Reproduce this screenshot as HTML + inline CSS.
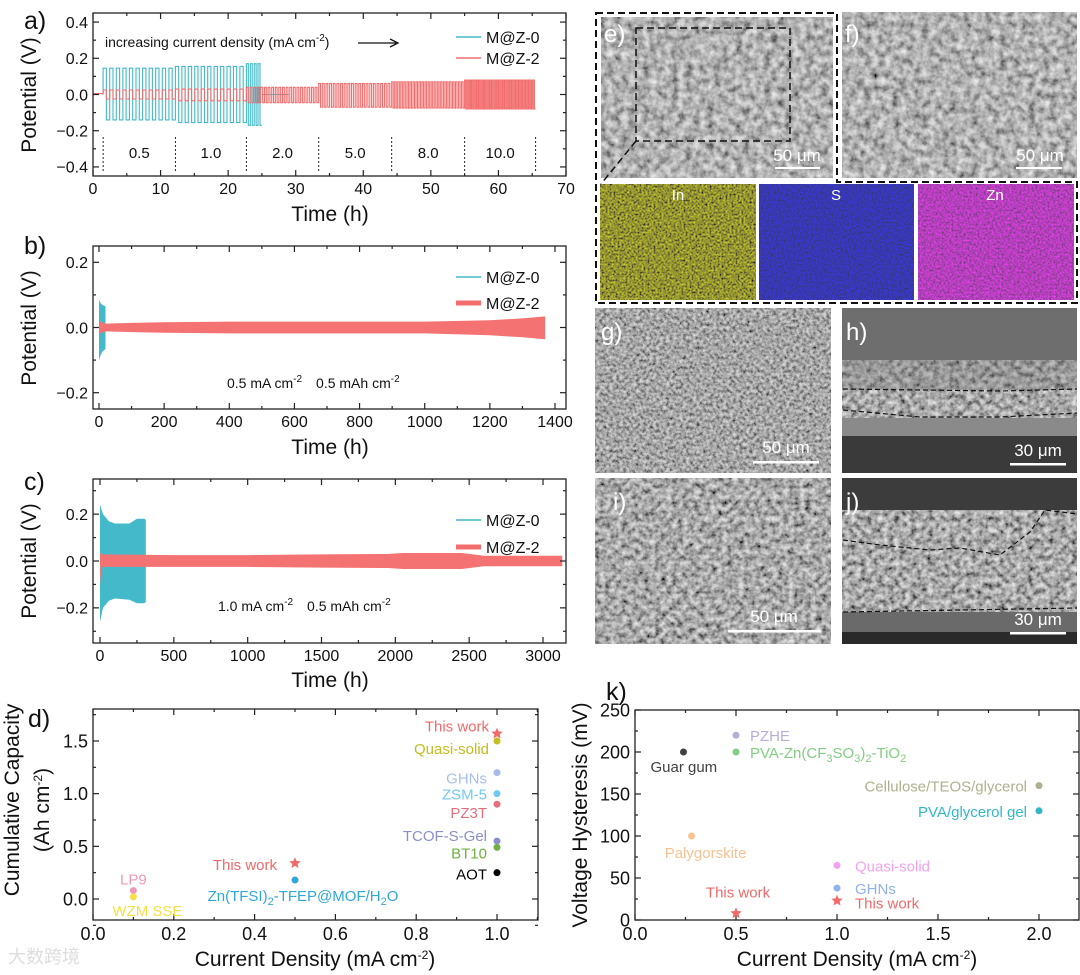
<!DOCTYPE html>
<html><head><meta charset="utf-8">
<style>
html,body{margin:0;padding:0;background:#fff;}
svg{display:block;font-family:"Liberation Sans",Arial,sans-serif;}
</style></head>
<body>
<svg id="fig" width="1080" height="975" viewBox="0 0 1080 975" xmlns="http://www.w3.org/2000/svg">
<defs>
<filter id="semGray" x="0" y="0" width="100%" height="100%"><feTurbulence type="fractalNoise" baseFrequency="0.14" numOctaves="4" seed="3"/><feColorMatrix type="matrix" values="1.0 0 0 0 -0.06  1.0 0 0 0 -0.06  1.0 0 0 0 -0.06  0 0 0 0 1"/></filter>
<filter id="semDark" x="0" y="0" width="100%" height="100%"><feTurbulence type="fractalNoise" baseFrequency="0.3" numOctaves="3" seed="7"/><feColorMatrix type="matrix" values="1.0 0 0 0 -0.12  1.0 0 0 0 -0.12  1.0 0 0 0 -0.12  0 0 0 0 1"/></filter>
<filter id="semCoarse" x="0" y="0" width="100%" height="100%"><feTurbulence type="fractalNoise" baseFrequency="0.18" numOctaves="3" seed="11"/><feColorMatrix type="matrix" values="1.1 0 0 0 -0.15  1.1 0 0 0 -0.15  1.1 0 0 0 -0.15  0 0 0 0 1"/></filter>
<filter id="edsY" x="0" y="0" width="100%" height="100%"><feTurbulence type="fractalNoise" baseFrequency="0.5" numOctaves="2" seed="4"/><feColorMatrix type="matrix" values="1.0 0 0 0 -0.2  1.0 0 0 0 -0.2  0 0 0 0 0.03  0 0 0 0 1"/></filter>
<filter id="edsB" x="0" y="0" width="100%" height="100%"><feTurbulence type="fractalNoise" baseFrequency="0.5" numOctaves="2" seed="5"/><feColorMatrix type="matrix" values="0 0 0 0 0.04  0 0 0 0 0.04  1.1 0 0 0 -0.1  0 0 0 0 1"/></filter>
<filter id="edsM" x="0" y="0" width="100%" height="100%"><feTurbulence type="fractalNoise" baseFrequency="0.5" numOctaves="2" seed="6"/><feColorMatrix type="matrix" values="1.1 0 0 0 -0.08  0 0 0 0 0.05  1.15 0 0 0 -0.06  0 0 0 0 1"/></filter>
</defs>

<g>
<rect x="601" y="17" width="232" height="161" fill="#888" filter="url(#semGray)"/>
<rect x="842" y="12" width="235" height="166" fill="#888" filter="url(#semGray)"/>
<rect x="600" y="184" width="156" height="116" filter="url(#edsY)"/>
<rect x="759" y="184" width="155" height="116" filter="url(#edsB)"/>
<rect x="918" y="184" width="156" height="116" filter="url(#edsM)"/>
<rect x="595" y="308" width="236" height="165" filter="url(#semDark)"/>
<g>
<rect x="842" y="308" width="235" height="165" fill="#6e6e6e"/>
<rect x="842" y="360" width="235" height="30" filter="url(#semCoarse)" opacity="0.7"/>
<rect x="842" y="390" width="235" height="28" filter="url(#semCoarse)"/>
<rect x="842" y="418" width="235" height="18" fill="#8a8a8a"/>
<rect x="842" y="436" width="235" height="37" fill="#3a3a3a"/>
<path d="M843 389 L1000 391 L1077 389 M843 410 L920 417 L1000 417 L1077 413" stroke="#111" stroke-width="1.2" stroke-dasharray="5,3" fill="none"/>
</g>
<rect x="595" y="478" width="236" height="166" filter="url(#semCoarse)"/>
<g>
<rect x="842" y="478" width="235" height="166" fill="#3c3c3c"/>
<path d="M842 520 L900 525 L945 540 L980 540 L1010 530 L1030 510 L1077 510 L1077 612 L842 612 Z" fill="#777" filter="url(#semCoarse)"/>
<rect x="842" y="612" width="235" height="20" fill="#6a6a6a"/>
<rect x="842" y="632" width="235" height="12" fill="#2a2a2a"/>
<path d="M843 540 L880 545 L930 550 L960 548 L1000 555 L1030 532 L1045 510 L1077 514 M843 612 L960 610 L1077 608" stroke="#111" stroke-width="1.2" stroke-dasharray="5,3" fill="none"/>
</g>
<g fill="none" stroke="#111" stroke-width="2" stroke-dasharray="7,4">
<path d="M596 13 L837 13 L837 182 L1077 182 L1077 303 L596 303 Z"/>
<path d="M636 28 L790 28 L790 141 L636 141 Z" stroke-width="1.5"/>
<path d="M636 141 L601 184" stroke-width="1.5"/>
</g>
<g fill="#fff" font-size="24">
<text x="604" y="42">e)</text><text x="845" y="42">f)</text>
<text x="601" y="340">g)</text><text x="846" y="340">h)</text>
<text x="613" y="510">i)</text><text x="846" y="510">j)</text>
</g>
<g fill="#fff" font-size="15" text-anchor="middle">
<text x="678" y="200">In</text><text x="836" y="200">S</text><text x="995" y="200">Zn</text>
</g>
<g fill="#fff" font-size="17" text-anchor="middle">
<text x="797" y="161">50 μm</text><rect x="775" y="167" width="45" height="2"/>
<text x="1040" y="161">50 μm</text><rect x="1016" y="167" width="46" height="2"/>
<text x="786" y="453">50 μm</text><rect x="753" y="461" width="66" height="2.5"/>
<text x="1038" y="456">30 μm</text><rect x="1010" y="463" width="56" height="2.5"/>
<text x="774" y="622">50 μm</text><rect x="728" y="630" width="93" height="2.5"/>
<text x="1038" y="625">30 μm</text><rect x="1010" y="632" width="56" height="2.5"/>
</g>
</g>
<g id="charts"></g>
</svg>

<script>
// ---------- Panel a data ----------
const aStageStart = [1.5, 12.2, 22.7, 33.4, 44.2, 55.0];
const aStageEnd = [12.2, 22.7, 33.4, 44.2, 55.0, 65.5];
const aStageLabels = ["0.5", "1.0", "2.0", "5.0", "8.0", "10.0"];
const aRedCycles = [11, 11, 20, 20, 24, 30];
const aRedHi = [0.025, 0.03, 0.04, 0.06, 0.07, 0.08];
const aRedLo = [-0.025, -0.035, -0.045, -0.07, -0.075, -0.08];
const aCyanEnd = [12.2, 22.7, 25.0];
const aCyanCycles = [11, 11, 4];
const aCyanHi = [0.145, 0.155, 0.17];
const aCyanLo = [-0.14, -0.155, -0.17];
// ---------- Panel b data ----------
const bRedT = [0, 20, 100, 200, 400, 600, 800, 1000, 1200, 1300, 1370];
const bRedHi = [0.02, 0.012, 0.014, 0.016, 0.018, 0.018, 0.018, 0.018, 0.022, 0.028, 0.034];
const bRedLo = [-0.02, -0.012, -0.014, -0.016, -0.018, -0.018, -0.018, -0.018, -0.024, -0.03, -0.036];
const bCyanT = [0, 5, 10, 20];
const bCyanHi = [0.085, 0.075, 0.07, 0.065];
const bCyanLo = [-0.1, -0.085, -0.075, -0.065];
// ---------- Panel c data ----------
const cCyanT = [0, 20, 60, 100, 200, 250, 300, 310];
const cCyanHi = [0.24, 0.2, 0.17, 0.16, 0.16, 0.18, 0.18, 0.175];
const cCyanLo = [-0.26, -0.2, -0.17, -0.16, -0.165, -0.18, -0.18, -0.175];
const cRedT = [0, 10, 500, 1000, 1500, 1950, 2050, 2450, 2600, 3000, 3130];
const cRedHi = [0.035, 0.028, 0.025, 0.025, 0.028, 0.03, 0.034, 0.034, 0.022, 0.022, 0.022];
const cRedLo = [-0.1, -0.025, -0.025, -0.025, -0.028, -0.03, -0.034, -0.034, -0.022, -0.022, -0.022];
// ---------- Panel d data ----------
const dNames = ["This work", "Quasi-solid", "GHNs", "ZSM-5", "PZ3T", "TCOF-S-Gel", "BT10", "AOT", "This work", "Zn(TFSI)2-TFEP@MOF/H2O", "LP9", "WZM SSE"];
const dX = [1.0, 1.0, 1.0, 1.0, 1.0, 1.0, 1.0, 1.0, 0.5, 0.5, 0.1, 0.1];
const dY = [1.57, 1.5, 1.2, 1.0, 0.9, 0.55, 0.49, 0.25, 0.34, 0.18, 0.08, 0.02];
const dColors = ["#f06a6a", "#c4bd1c", "#a6bdec", "#6fc9f2", "#e2707e", "#8a8fcb", "#6fb043", "#000", "#f06a6a", "#2fa7d9", "#ec9ab9", "#f5e04a"];
// ---------- Panel k data ----------
const kNames = ["Guar gum", "PZHE", "PVA-Zn(CF3SO3)2-TiO2", "Cellulose/TEOS/glycerol", "PVA/glycerol gel", "Palygorskite", "Quasi-solid", "GHNs", "This work", "This work"];
const kX = [0.24, 0.5, 0.5, 2.0, 2.0, 0.28, 1.0, 1.0, 1.0, 0.5];
const kY = [200, 220, 200, 160, 130, 100, 65, 38, 23, 8];
const kColors = ["#404040", "#b9acd9", "#82cc84", "#b1b08e", "#30b8c8", "#f8c291", "#f2a2f0", "#92b2ea", "#f06a6a", "#f06a6a"];

const NS = "http://www.w3.org/2000/svg";
const root = document.getElementById("charts");
function mk(tag, attrs, parent) {
  const e = document.createElementNS(NS, tag);
  for (const k in attrs) e.setAttribute(k, attrs[k]);
  (parent || root).appendChild(e);
  return e;
}
function lin(d0, d1, r0, r1) { return v => r0 + (v - d0) * (r1 - r0) / (d1 - d0); }

function axes(g, box, xs, ys, xT, xMinor, yT, yMinor, xFmt, yFmt, fs) {
  const [L, T, R, B] = box;
  const frame = mk("rect", {x: L, y: T, width: R - L, height: B - T, fill: "none", stroke: "#222", "stroke-width": 1.3}, g);
  
  
  const tk = mk("g", {stroke: "#222", "stroke-width": 1.2}, g);
  
  
  xMinor.forEach(v => { const x = xs(v); mk("line", {x1: x, x2: x, y1: B, y2: B - 3}, tk); mk("line", {x1: x, x2: x, y1: T, y2: T + 3}, tk); });
  yMinor.forEach(v => { const y = ys(v); mk("line", {x1: L, x2: L + 3, y1: y, y2: y}, tk); mk("line", {x1: R, x2: R - 3, y1: y, y2: y}, tk); });
  xT.forEach(v => { const x = xs(v); mk("line", {x1: x, x2: x, y1: B, y2: B - 6}, tk); mk("line", {x1: x, x2: x, y1: T, y2: T + 6}, tk); });
  yT.forEach(v => { const y = ys(v); mk("line", {x1: L, x2: L + 6, y1: y, y2: y}, tk); mk("line", {x1: R, x2: R - 6, y1: y, y2: y}, tk); });
  const xl = mk("g", {"font-size": fs, "text-anchor": "middle", fill: "#111"}, g);
  
  
  xT.forEach(v => { const t = mk("text", {x: xs(v), y: B + fs + 2}, xl); t.textContent = xFmt(v); });
  const yl = mk("g", {"font-size": fs, "text-anchor": "end", fill: "#111"}, g);
  
  
  yT.forEach(v => { const t = mk("text", {x: L - 5, y: ys(v) + fs * 0.36}, yl); t.textContent = yFmt(v); });
}
function txt(g, x, y, s, attrs, name) {
  const t = mk("text", Object.assign({x: x, y: y}, attrs || {}), g);
  t.innerHTML = s;
  
  
  return t;
}
function fmt1(v) { return (v < 0 ? "\u2212" : "") + Math.abs(v).toFixed(1); }
function band(g, xs, ys, T, hi, lo, color, name) {
  let d = "";
  T.forEach((t, i) => d += (i ? "L" : "M") + xs(t).toFixed(1) + " " + ys(hi[i]).toFixed(1));
  for (let i = T.length - 1; i >= 0; i--) d += "L" + xs(T[i]).toFixed(1) + " " + ys(lo[i]).toFixed(1);
  const p = mk("path", {d: d + "Z", fill: color}, g);
  
  
}
function legend(g, x, y1, y2, w) {
  const items = [["M@Z-0", "#43b9c9", y1, 1.5], ["M@Z-2", "#f26d6d", y2, w]];
  items.forEach(it => {
    const lg = mk("g", {}, g);
    
    
    mk("line", {x1: x, x2: x + 25, y1: it[2], y2: it[2], stroke: it[1], "stroke-width": it[3]}, lg);
    const t = mk("text", {x: x + 30, y: it[2] + 6, "font-size": 16, fill: "#111"}, lg);
    t.textContent = it[0];
  });
}
function rng(a, b, s) { const r = []; for (let v = a; v <= b + 1e-9; v += s) r.push(+v.toFixed(6)); return r; }
const titleAttrs = {"font-size": 21, "text-anchor": "middle", fill: "#111"};

// ===== Panel a =====
(function () {
  const g = mk("g", {});
  
  
  const box = [93, 13, 566, 176];
  const xs = lin(0, 70, 93, 566), ys = lin(-0.45, 0.45, 176, 13);
  function wave(starts, ends, cyc, hi, lo, color, name) {
    let d = "";
    starts.forEach((s, i) => {
      const e = ends[i], per = (e - s) / cyc[i];
      for (let k = 0; k < cyc[i]; k++) {
        const t = s + k * per;
        d += (d ? "L" : "M") + xs(t).toFixed(1) + " " + ys(0).toFixed(1);
        d += "L" + xs(t).toFixed(1) + " " + ys(hi[i]).toFixed(1) + "L" + xs(t + per / 2).toFixed(1) + " " + ys(hi[i]).toFixed(1);
        d += "L" + xs(t + per / 2).toFixed(1) + " " + ys(lo[i]).toFixed(1) + "L" + xs(t + per).toFixed(1) + " " + ys(lo[i]).toFixed(1);
      }
    });
    const p = mk("path", {d: d, fill: "none", stroke: color, "stroke-width": 1.1}, g);
    
    
    return p;
  }
  const pre = mk("line", {x1: xs(0), x2: xs(aStageStart[0]), y1: ys(0.005), y2: ys(0.005), stroke: "#f26d6d", "stroke-width": 1.2}, g);
  
  
  wave(aStageStart.slice(0, 3), aCyanEnd, aCyanCycles, aCyanHi, aCyanLo, "#43b9c9", "series-mz0");
  const tail = mk("line", {x1: xs(aCyanEnd[2]), x2: xs(29), y1: ys(0), y2: ys(0), stroke: "#43b9c9", "stroke-width": 1.1}, g);
  
  
  wave(aStageStart, aStageEnd, aRedCycles, aRedHi, aRedLo, "#f26d6d", "series-mz2");
  aStageStart.concat([aStageEnd[aStageEnd.length - 1]]).forEach(t => {
    const l = mk("line", {x1: xs(t), x2: xs(t), y1: 137, y2: 172, stroke: "#222", "stroke-width": 1, "stroke-dasharray": "2,2"}, g);
    
    
  });
  aStageLabels.forEach((s, i) => txt(g, xs((aStageStart[i] + aStageEnd[i]) / 2), 158, s, {"font-size": 15, "text-anchor": "middle", fill: "#111"}, "stage-label"));
  axes(g, box, xs, ys, rng(0, 70, 10), rng(5, 65, 10), rng(-0.4, 0.4, 0.2), rng(-0.3, 0.3, 0.2), v => String(v), fmt1, 16);
  txt(g, 105, 47, 'increasing current density (mA cm<tspan dy="-6" font-size="10">-2</tspan><tspan dy="6">)</tspan>', {"font-size": 14, fill: "#111"}, "annotation-increasing-current");
  const ar = mk("path", {d: "M358 43 L396 43 M390 39 L398 43 L390 47", stroke: "#111", "stroke-width": 1.3, fill: "none"}, g);
  
  
  legend(g, 456, 37, 58, 1.5);
  txt(g, 24, 29, "a)", {"font-size": 25, fill: "#111"}, "panel-label-a");
  txt(g, 0, 0, "Potential (V)", Object.assign({transform: "translate(36,95) rotate(-90)"}, titleAttrs), "y-axis-title-a");
  txt(g, 330, 221, "Time (h)", titleAttrs, "x-axis-title-a");
})();

// ===== Panel b =====
(function () {
  const g = mk("g", {});
  
  
  const box = [93, 246, 566, 409];
  const xs = lin(0, 1400, 99, 555), ys = lin(-0.25, 0.25, 409, 246);
  band(g, xs, ys, bRedT, bRedHi, bRedLo, "#f47272", "series-mz2-band");
  band(g, xs, ys, bCyanT, bCyanHi, bCyanLo, "#43b9c9", "series-mz0-band");
  band(g, xs, ys, [0, 20], [0.02, 0.012], [-0.02, -0.012], "#f47272", "series-mz2-band-front");
  axes(g, box, xs, ys, rng(0, 1400, 200), rng(100, 1300, 200), [-0.2, 0, 0.2], [-0.1, 0.1], v => String(v), fmt1, 16);
  legend(g, 456, 277, 303, 5);
  txt(g, 227, 388, '0.5 mA cm<tspan dy="-6" font-size="10">-2</tspan><tspan dy="6" dx="14">0.5 mAh cm</tspan><tspan dy="-6" font-size="10">-2</tspan>', {"font-size": 14, fill: "#111"}, "condition-label-b");
  txt(g, 24, 254, "b)", {"font-size": 25, fill: "#111"}, "panel-label-b");
  txt(g, 0, 0, "Potential (V)", Object.assign({transform: "translate(36,328) rotate(-90)"}, titleAttrs), "y-axis-title-b");
  txt(g, 330, 454, "Time (h)", titleAttrs, "x-axis-title-b");
})();

// ===== Panel c =====
(function () {
  const g = mk("g", {});
  
  
  const box = [93, 479, 566, 643];
  const xs = lin(0, 3000, 100, 543), ys = lin(-0.35, 0.35, 643, 479);
  band(g, xs, ys, cCyanT, cCyanHi, cCyanLo, "#43b9c9", "series-mz0-band");
  band(g, xs, ys, cRedT, cRedHi, cRedLo, "#f47272", "series-mz2-band");
  axes(g, box, xs, ys, rng(0, 3000, 500), rng(250, 2750, 500), [-0.2, 0, 0.2], [-0.3, -0.1, 0.1, 0.3], v => String(v), fmt1, 16);
  legend(g, 456, 520, 547, 5);
  txt(g, 218, 611, '1.0 mA cm<tspan dy="-6" font-size="10">-2</tspan><tspan dy="6" dx="14">0.5 mAh cm</tspan><tspan dy="-6" font-size="10">-2</tspan>', {"font-size": 14, fill: "#111"}, "condition-label-c");
  txt(g, 24, 490, "c)", {"font-size": 25, fill: "#111"}, "panel-label-c");
  txt(g, 0, 0, "Potential (V)", Object.assign({transform: "translate(36,561) rotate(-90)"}, titleAttrs), "y-axis-title-c");
  txt(g, 330, 687, "Time (h)", titleAttrs, "x-axis-title-c");
})();

function star(g, cx, cy, r, color) {
  let d = "";
  for (let i = 0; i < 10; i++) {
    const a = -Math.PI / 2 + i * Math.PI / 5, rr = i % 2 ? r * 0.45 : r;
    d += (i ? "L" : "M") + (cx + rr * Math.cos(a)).toFixed(1) + " " + (cy + rr * Math.sin(a)).toFixed(1);
  }
  return mk("path", {d: d + "Z", fill: color}, g);
}

// ===== Panel d =====
(function () {
  const g = mk("g", {});
  
  
  const box = [93, 709, 538, 920];
  const xs = lin(0, 1.0, 93, 497), ys = lin(0, 1.5, 899, 741);
  axes(g, box, xs, ys, rng(0, 1.0, 0.2), rng(0.1, 1.1, 0.2), [0, 0.5, 1.0, 1.5], [-0.25, 0.25, 0.75, 1.25, 1.75], v => v.toFixed(1), v => v.toFixed(1), 18);
  const off = [[-8, -2, "end"], [-8, 13, "end"], [-10, 11, "end"], [-10, 6, "end"], [-10, 14, "end"], [-10, 0, "end"], [-10, 11, "end"], [-10, 7, "end"], [-18, 7, "end"], [8, 21, "middle"], [0, -6, "middle"], [14, 19, "middle"]];
  dX.forEach((x, i) => {
    const px = xs(x), py = ys(dY[i]);
    let m;
    if (dNames[i] === "This work") m = star(g, px, py, 6, dColors[i]);
    else m = mk("circle", {cx: px, cy: py, r: 3.5, fill: dColors[i]}, g);
    
    
    let s = dNames[i];
    if (s.indexOf("Zn(TFSI)2") === 0) s = 'Zn(TFSI)<tspan dy="4" font-size="11">2</tspan><tspan dy="-4">-TFEP@MOF/H</tspan><tspan dy="4" font-size="11">2</tspan><tspan dy="-4">O</tspan>';
    txt(g, px + off[i][0], py + off[i][1], s, {"font-size": 15, fill: dColors[i], "text-anchor": off[i][2]}, "point-label");
  });
  txt(g, 28, 727, "d)", {"font-size": 25, fill: "#111"}, "panel-label-d");
  txt(g, 0, 0, "Cumulative Capacity", Object.assign({transform: "translate(19,800) rotate(-90)"}, titleAttrs), "y-axis-title-d");
  txt(g, 0, 0, '(Ah cm<tspan dy="-7" font-size="12">-2</tspan><tspan dy="7">)</tspan>', Object.assign({transform: "translate(49,810) rotate(-90)"}, titleAttrs), "y-axis-units-d");
  txt(g, 315, 966, 'Current Density (mA cm<tspan dy="-7" font-size="12">-2</tspan><tspan dy="7">)</tspan>', titleAttrs, "x-axis-title-d");
  txt(g, 8, 963, "大数跨境", {"font-size": 18, fill: "#ddd", style: 'font-family:"Liberation Sans","Noto Sans CJK SC",sans-serif'}, "watermark");
})();

// ===== Panel k =====
(function () {
  const g = mk("g", {});
  
  
  const box = [635, 710, 1079, 920];
  const xs = lin(0, 2.0, 635, 1039), ys = lin(0, 250, 920, 710);
  axes(g, box, xs, ys, rng(0, 2.0, 0.5), rng(0.25, 2.25, 0.25).filter(v => Math.abs(v * 2 - Math.round(v * 2)) > 1e-6), rng(0, 250, 50), rng(25, 225, 50), v => v.toFixed(1), v => String(v), 18);
  const off = [[-33, 20, "start"], [14, 6, "start"], [14, 6, "start"], [-12, 6, "end"], [-12, 6, "end"], [14, 22, "middle"], [18, 6, "start"], [18, 6, "start"], [18, 8, "start"], [2, -16, "middle"]];
  kX.forEach((x, i) => {
    const px = xs(x), py = ys(kY[i]);
    let m;
    if (kNames[i] === "This work") m = star(g, px, py, 6, kColors[i]);
    else m = mk("circle", {cx: px, cy: py, r: 3.5, fill: kColors[i]}, g);
    
    
    let s = kNames[i];
    if (s.indexOf("PVA-Zn") === 0) s = 'PVA-Zn(CF<tspan dy="4" font-size="11">3</tspan><tspan dy="-4">SO</tspan><tspan dy="4" font-size="11">3</tspan><tspan dy="-4">)</tspan><tspan dy="4" font-size="11">2</tspan><tspan dy="-4">-TiO</tspan><tspan dy="4" font-size="11">2</tspan>';
    txt(g, px + off[i][0], py + off[i][1], s, {"font-size": 15, fill: kColors[i], "text-anchor": off[i][2]}, "point-label");
  });
  txt(g, 606, 700, "k)", {"font-size": 25, fill: "#111"}, "panel-label-k");
  txt(g, 0, 0, "Voltage Hysteresis (mV)", Object.assign({transform: "translate(587,815) rotate(-90)"}, titleAttrs), "y-axis-title-k");
  txt(g, 857, 966, 'Current Density (mA cm<tspan dy="-7" font-size="12">-2</tspan><tspan dy="7">)</tspan>', titleAttrs, "x-axis-title-k");
})();
</script>
</body></html>
